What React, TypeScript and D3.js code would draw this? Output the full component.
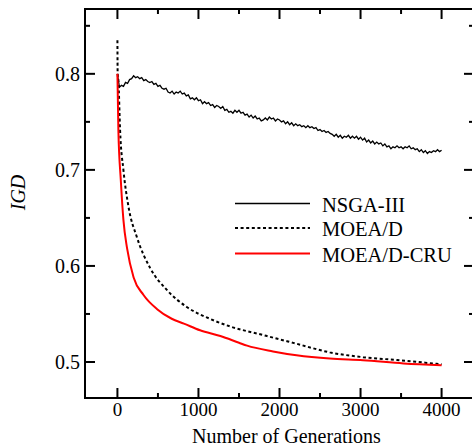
import React from "react";
import * as d3 from "d3";

// NSGA-III sampled every 25 generations (0..4000)
const nsgaStep = 25;
const nsgaValues = [
  0.800, 0.786, 0.788, 0.787, 0.791, 0.790, 0.794, 0.795, 0.798, 0.796,
  0.797, 0.795, 0.796, 0.793, 0.794, 0.792, 0.791, 0.792, 0.789, 0.790,
  0.787, 0.788, 0.785, 0.784, 0.785, 0.781, 0.780, 0.782, 0.779, 0.781,
  0.780, 0.782, 0.779, 0.780, 0.777, 0.778, 0.774, 0.775, 0.773, 0.775,
  0.772, 0.773, 0.769, 0.771, 0.769, 0.770, 0.767, 0.768, 0.765, 0.767,
  0.766, 0.764, 0.766, 0.762, 0.763, 0.760, 0.761, 0.759, 0.762, 0.760,
  0.762, 0.759, 0.760, 0.757, 0.758, 0.755, 0.757, 0.754, 0.756, 0.753,
  0.754, 0.751, 0.752, 0.754, 0.752, 0.755, 0.753, 0.754, 0.751, 0.753,
  0.752, 0.750, 0.751, 0.748, 0.750, 0.747, 0.749, 0.746, 0.748, 0.746,
  0.747, 0.745, 0.746, 0.744, 0.746, 0.744, 0.745, 0.743, 0.744, 0.741,
  0.742, 0.740, 0.741, 0.739, 0.740, 0.738, 0.737, 0.735, 0.737, 0.734,
  0.736, 0.733, 0.735, 0.734, 0.736, 0.733, 0.735, 0.733, 0.735, 0.732,
  0.734, 0.731, 0.733, 0.729, 0.731, 0.728, 0.730, 0.727, 0.729, 0.727,
  0.728, 0.725, 0.727, 0.724, 0.725, 0.722, 0.724, 0.723, 0.725, 0.723,
  0.724, 0.722, 0.724, 0.723, 0.725, 0.722, 0.723, 0.721, 0.722, 0.719,
  0.721, 0.718, 0.720, 0.717, 0.719, 0.718, 0.720, 0.719, 0.721, 0.719,
  0.7205,
];

const moeadGens = [0, 3, 12, 33, 74, 136, 240, 403, 610, 860, 1140, 1390, 1800, 2210, 2620, 3030, 3450, 4000];
const moeadValues = [0.835, 0.800, 0.793, 0.741, 0.700, 0.662, 0.630, 0.598, 0.575, 0.557, 0.545, 0.537, 0.528, 0.519, 0.510, 0.505, 0.502, 0.4976];

const cruGens = [0, 12, 42, 74, 120, 200, 320, 490, 670, 820, 1020, 1270, 1500, 1600, 1920, 2210, 2620, 3030, 3530, 4000];
const cruValues = [0.800, 0.741, 0.689, 0.648, 0.618, 0.588, 0.570, 0.555, 0.545, 0.540, 0.533, 0.527, 0.520, 0.517, 0.511, 0.507, 0.5035, 0.5018, 0.4985, 0.4966];

const xMajor = [0, 1000, 2000, 3000, 4000];
const xMinor = [500, 1500, 2500, 3500];
const yMajor = [0.5, 0.6, 0.7, 0.8];
const yMinor = [0.55, 0.65, 0.75, 0.85];

const seriesNames = ["NSGA-III", "MOEA/D", "MOEA/D-CRU"];

const W = 472;
const H = 447;
const L = 85, R = 474, T = 9, B = 398;
const FONT = "'Liberation Serif', 'Times New Roman', serif";

export default function App() {
  const x = d3.scaleLinear().domain([-400, 4400]).range([L, R]);
  const y = d3.scaleLinear().domain([0.4625, 0.8675]).range([B, T]);

  const line = d3
    .line<[number, number]>()
    .x((d) => x(d[0]))
    .y((d) => y(d[1]));

  const nsga: [number, number][] = nsgaValues.map((v, i) => [i * nsgaStep, v]);
  const moead: [number, number][] = moeadGens.map((g, i) => [g, moeadValues[i]]);
  const cru: [number, number][] = cruGens.map((g, i) => [g, cruValues[i]]);

  const smooth = d3
    .line<[number, number]>()
    .x((d) => x(d[0]))
    .y((d) => y(d[1]))
    .curve(d3.curveMonotoneX);

  const legendY = [203.5, 228, 253.5];
  const styles = [
    { stroke: "#000", width: 1.3, dash: undefined as string | undefined },
    { stroke: "#000", width: 2, dash: "3,2.6" },
    { stroke: "#ff0000", width: 2, dash: undefined },
  ];

  return (
    <svg
      width={W}
      height={H}
      style={{ position: "absolute", left: 0, top: 0, background: "#fff" }}
    >
      <rect x={0} y={0} width={W} height={H} fill="#fff" />
      {/* data */}
      <path d={line(nsga) || ""} fill="none" stroke="#000" strokeWidth={1.3} />
      <path d={smooth(moead) || ""} fill="none" stroke="#000" strokeWidth={2} strokeDasharray="3,2.6" />
      <path d={smooth(cru) || ""} fill="none" stroke="#ff0000" strokeWidth={2} />

      {/* frame */}
      <rect x={L} y={T} width={R - L} height={B - T} fill="none" stroke="#000" strokeWidth={2} />

      {/* x ticks */}
      {xMajor.map((v) => (
        <g key={"xm" + v}>
          <line x1={x(v)} x2={x(v)} y1={B} y2={B - 10} stroke="#000" strokeWidth={2} />
          <line x1={x(v)} x2={x(v)} y1={T} y2={T + 10} stroke="#000" strokeWidth={2} />
          <text x={x(v)} y={416} textAnchor="middle" fontFamily={FONT} fontSize={19}>
            {v}
          </text>
        </g>
      ))}
      {xMinor.map((v) => (
        <g key={"xn" + v}>
          <line x1={x(v)} x2={x(v)} y1={B} y2={B - 5} stroke="#000" strokeWidth={2} />
          <line x1={x(v)} x2={x(v)} y1={T} y2={T + 5} stroke="#000" strokeWidth={2} />
        </g>
      ))}

      {/* y ticks */}
      {yMajor.map((v) => (
        <g key={"ym" + v}>
          <line x1={L} x2={L + 10} y1={y(v)} y2={y(v)} stroke="#000" strokeWidth={2} />
          <line x1={R} x2={R - 10} y1={y(v)} y2={y(v)} stroke="#000" strokeWidth={2} />
          <text x={80} y={y(v) + 7} textAnchor="end" fontFamily={FONT} fontSize={20}>
            {v.toFixed(1)}
          </text>
        </g>
      ))}
      {yMinor.map((v) => (
        <g key={"yn" + v}>
          <line x1={L} x2={L + 5} y1={y(v)} y2={y(v)} stroke="#000" strokeWidth={2} />
          <line x1={R} x2={R - 5} y1={y(v)} y2={y(v)} stroke="#000" strokeWidth={2} />
        </g>
      ))}

      {/* axis titles */}
      <text x={286.5} y={443} textAnchor="middle" fontFamily={FONT} fontSize={20}>
        Number of Generations
      </text>
      <text
        transform="translate(25,192.5) rotate(-90)"
        textAnchor="middle"
        fontFamily={FONT}
        fontSize={20}
        fontStyle="italic"
      >
        IGD
      </text>

      {/* legend */}
      {seriesNames.map((name, i) => (
        <g key={name}>
          <line
            x1={235}
            x2={310}
            y1={legendY[i]}
            y2={legendY[i]}
            stroke={styles[i].stroke}
            strokeWidth={styles[i].width}
            strokeDasharray={styles[i].dash}
          />
          <text x={322} y={legendY[i] + 8} fontFamily={FONT} fontSize={20.5}>
            {name}
          </text>
        </g>
      ))}
    </svg>
  );
}
